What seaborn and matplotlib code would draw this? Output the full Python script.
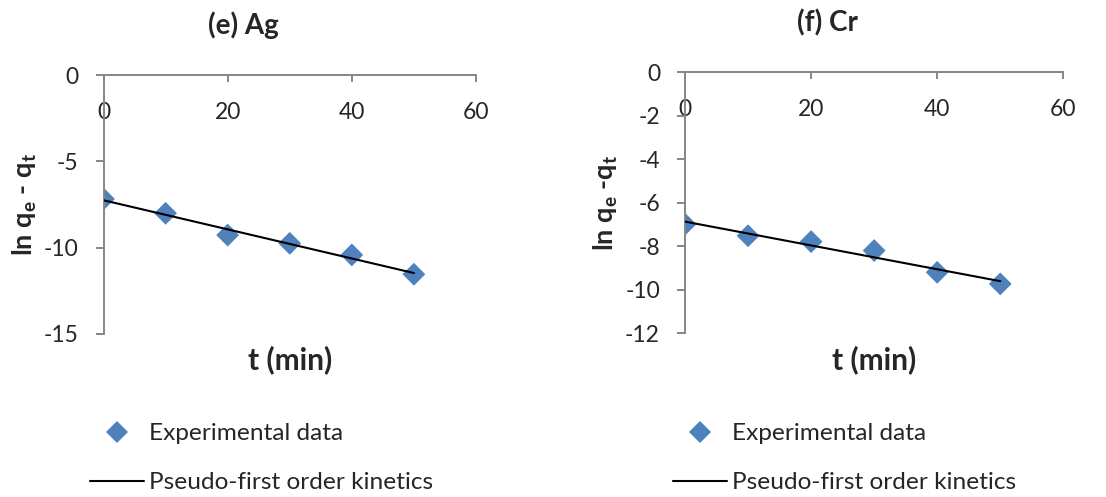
import numpy as np
import pandas as pd
import seaborn as sns
import matplotlib.pyplot as plt
from matplotlib.lines import Line2D

sns.set_style("white")
plt.rcParams["font.family"] = ["Lato", "DejaVu Sans"]
plt.rcParams["mathtext.fontset"] = "custom"
plt.rcParams["mathtext.rm"] = "Lato:bold"
plt.rcParams["mathtext.default"] = "rm"

# data
t_min = [0, 10, 20, 30, 40, 50]
ag_ln = [-7.18, -8.01, -9.27, -9.75, -10.42, -11.54]
cr_ln = [-6.99, -7.52, -7.79, -8.20, -9.20, -9.73]

x_ticks = [0, 20, 40, 60]
ag_yticks = [0, -5, -10, -15]
cr_yticks = [0, -2, -4, -6, -8, -10, -12]

blue = "#4F81BD"
grey = "#868686"

panels = [
    # title, ylabel, values, yticks, axes rect, title pos, legend anchor
    ("(e) Ag", "ln q$_{e}$ - q$_{t}$", ag_ln, ag_yticks,
     [103.5 / 1106, 1 - 334 / 497, 372.5 / 1106, 259 / 497], (243 / 1106, 1 - 25 / 497),
     (90 / 1106, 1 - 423 / 497)),
    ("(f) Cr", "ln q$_{e}$ -q$_{t}$", cr_ln, cr_yticks,
     [685 / 1106, 1 - 333.3 / 497, 378.3 / 1106, 261.3 / 497], (827 / 1106, 1 - 23 / 497),
     (673 / 1106, 1 - 423 / 497)),
]

fig = plt.figure(figsize=(11.06, 4.97), dpi=100)

for title, ylab, vals, yticks, rect, tpos, lpos in panels:
    ax = fig.add_axes(rect)
    df = pd.DataFrame({"t": t_min, "ln": vals})

    sns.scatterplot(data=df, x="t", y="ln", marker="D", s=135, color=blue,
                    edgecolor="none", ax=ax, zorder=2)
    sns.regplot(data=df, x="t", y="ln", scatter=False, ci=None, truncate=True,
                color="black", line_kws={"lw": 1.5, "zorder": 3}, ax=ax)

    ax.set_xlim(0, 60)
    ax.set_ylim(min(yticks), 0)
    ax.set_xticks(x_ticks)
    ax.set_yticks(yticks)
    ax.set_yticklabels([str(v) for v in yticks])

    for side in ["top", "right"]:
        ax.spines[side].set_visible(False)
    ax.spines["bottom"].set_position(("data", 0))
    for side in ["left", "bottom"]:
        ax.spines[side].set_color(grey)
        ax.spines[side].set_linewidth(1.4)

    ax.tick_params(axis="x", direction="out", length=5, width=1.4, color=grey,
                   pad=14.5, labelsize=16.5, bottom=True)
    ax.tick_params(axis="y", direction="out", length=6, width=1.4, color=grey,
                   pad=12, labelsize=16.5, left=True)

    ax.set_xlabel("t (min)", fontsize=21.5, fontweight="bold")
    ax.xaxis.label.set_va("center")
    ax.xaxis.set_label_coords(0.5, -0.1)
    ax.set_ylabel(ylab, fontsize=19.5, fontweight="bold")
    ax.yaxis.label.set_va("center")
    ax.yaxis.set_label_coords(-0.21, 0.5)

    fig.text(tpos[0], tpos[1], title, fontsize=20, fontweight="bold",
             ha="center", va="center")

    handles = [
        Line2D([], [], marker="D", ls="none", color=blue, markersize=11.5,
               markeredgewidth=0),
        Line2D([], [], color="black", lw=1.5),
    ]
    ax.legend(handles, ["Experimental data", "Pseudo-first order kinetics"],
              loc="upper left", bbox_to_anchor=lpos, bbox_transform=fig.transFigure,
              frameon=False, fontsize=17.6, borderaxespad=0, borderpad=0,
              handlelength=2.2, handletextpad=0.2, labelspacing=1.15)

fig.savefig("out.png", dpi=100)
